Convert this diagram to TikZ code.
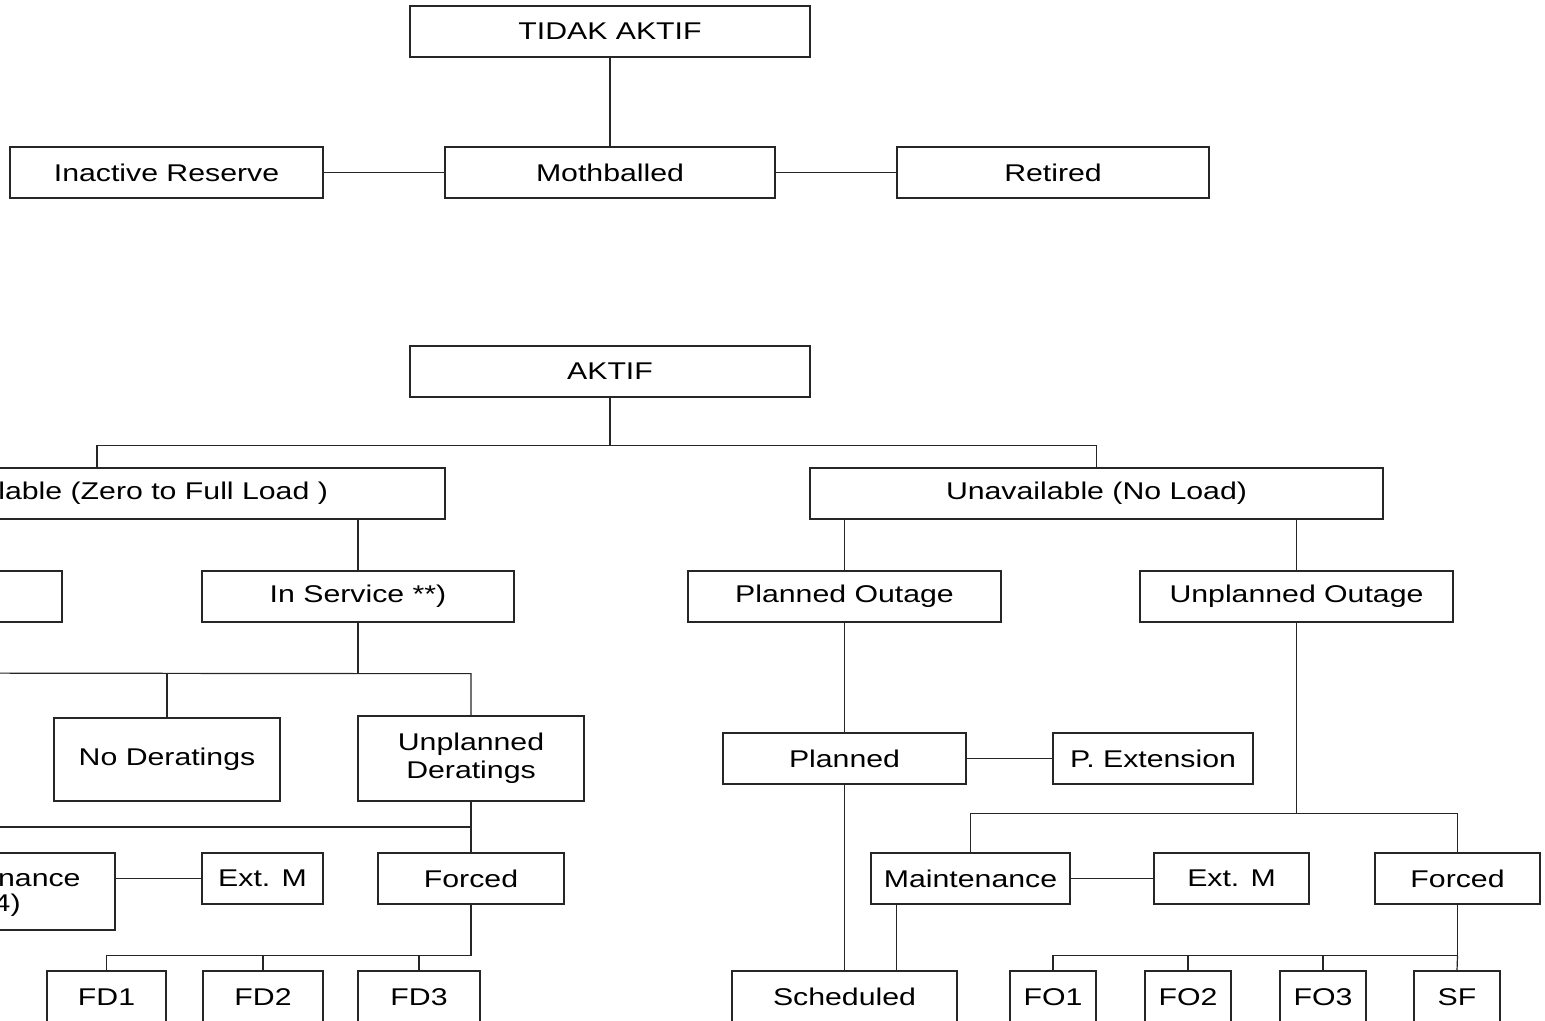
\documentclass[tikz,border=0pt]{standalone}
\usepackage{fontspec}
\setmainfont{Liberation Sans}[FakeStretch=1.25]
\usetikzlibrary{calc}

\tikzset{
  box/.style={draw=black!85, line width=0.6pt, inner sep=0pt, align=center,
              font=\fontsize{12.1}{14}\selectfont},
  txt/.style={inner sep=0pt, font=\fontsize{12.1}{14}\selectfont},
  wire/.style={draw=black!85, line width=0.6pt},
}

% \boxnode{name}{left}{top}{right}{bottom}{text}, positions in pixel units
\newcommand{\boxnode}[6]{%
  \node[box, minimum width={((#4)-(#2))*0.5pt}, minimum height={((#5)-(#3))*0.5pt}]
    (#1) at ({((#2)+(#4))/2},{((#3)+(#5))/2}) {#6};}

\begin{document}
\begin{tikzpicture}[x=0.5pt,y=-0.5pt]
\useasboundingbox (0,0) rectangle (1545,1021);
\clip (0,0) rectangle (1545,1021);

% ---------- inactive states ----------
\boxnode{tidak}{410}{6}{810}{57}{TIDAK AKTIF}
\boxnode{inres}{10}{147}{323}{198}{Inactive Reserve}
\boxnode{moth}{445}{147}{775}{198}{Mothballed}
\boxnode{ret}{897}{147}{1209}{198}{Retired}
\draw[wire] (tidak) -- (moth);
\draw[wire] (inres) -- (moth);
\draw[wire] (moth) -- (ret);

% ---------- active states ----------
\boxnode{aktif}{410}{346}{810}{397}{AKTIF}
\boxnode{avail}{-177}{468}{445}{519}{Available (Zero to Full Load )}
\boxnode{unavail}{810}{468}{1383}{519}{Unavailable (No Load)}
\coordinate (availdrop) at (97,468);
\draw[wire] (aktif.south) -- ++(0,48) coordinate (bA);
\draw[wire] (availdrop) |- (bA) -| (unavail.north);

% available branch
\boxnode{rsd}{-250}{571}{62}{622}{}
\boxnode{inserv}{202}{571}{514}{622}{In Service **)}
\draw[wire] (rsd.north) -- (rsd.north |- avail.south);
\draw[wire] (inserv.north) -- (inserv.north |- avail.south);

\boxnode{noder}{54}{718}{280}{801}{No Deratings}
\boxnode{unpder}{358}{716}{584}{801}{Unplanned\\Deratings}
\draw[wire] (inserv.south) -- ++(0,51) coordinate (bS);
\coordinate (bSleft) at (-100,673);
\draw[wire] (bSleft) -- (bS) -| (unpder.north);
\draw[wire] (noder.north) -- (noder.north |- bS);

\boxnode{mntL}{-135}{853}{115}{930}{}
\node[txt, anchor=east] (mntLa) at (81,878) {Maintenance};
\node[txt, anchor=east] (mntLb) at (21,905) {(D4)};
\boxnode{extL}{202}{853}{323}{904}{Ext. M}
\boxnode{forcedL}{378}{853}{564}{904}{Forced}
\coordinate (bUleft) at (-100,827);
\draw[wire] (unpder) -- (forcedL);
\draw[wire] (bUleft) -- (bUleft -| unpder.south);
\draw[wire] (extL.west -| mntL.east) -- (extL.west);

\boxnode{fd1}{47}{971}{166}{1023}{FD1}
\boxnode{fd2}{203}{971}{323}{1023}{FD2}
\boxnode{fd3}{358}{971}{480}{1023}{FD3}
\draw[wire] (forcedL.south) -- ++(0,51) coordinate (bF);
\draw[wire] (bF) -| (fd1.north);
\draw[wire] (fd2.north) -- (fd2.north |- bF);
\draw[wire] (fd3.north) -- (fd3.north |- bF);

% unavailable branch
\boxnode{plo}{688}{571}{1001}{622}{Planned Outage}
\boxnode{uplo}{1140}{571}{1453}{622}{Unplanned Outage}
\draw[wire] (plo.north |- unavail.south) -- (plo.north);
\draw[wire] (uplo.north |- unavail.south) -- (uplo.north);

\boxnode{planned}{723}{733}{966}{784}{Planned}
\boxnode{pext}{1053}{733}{1253}{784}{P. Extension}
\boxnode{sched}{732}{971}{957}{1023}{Scheduled}
\draw[wire] (plo) -- (planned);
\draw[wire] (planned) -- (pext);
\draw[wire] (planned) -- (sched);

\boxnode{mntR}{871}{853}{1070}{904}{Maintenance}
\boxnode{extR}{1154}{853}{1309}{904}{Ext. M}
\boxnode{forcedR}{1375}{853}{1540}{904}{Forced}
\draw[wire] (uplo.south) -- ++(0,191) coordinate (bO);
\draw[wire] (mntR.north) |- (bO) -| (forcedR.north);
\draw[wire] (mntR) -- (extR);
\draw[wire] (mntR.south west) ++(26,0) coordinate (mS) -- (mS |- sched.north);

\boxnode{fo1}{1010}{971}{1096}{1023}{FO1}
\boxnode{fo2}{1145}{971}{1231}{1023}{FO2}
\boxnode{fo3}{1280}{971}{1366}{1023}{FO3}
\boxnode{sf}{1414}{971}{1500}{1023}{SF}
\draw[wire] (forcedR.south) -- ++(0,51) coordinate (bG);
\draw[wire] (bG) -| (fo1.north);
\draw[wire] (fo2.north) -- (fo2.north |- bG);
\draw[wire] (fo3.north) -- (fo3.north |- bG);
\draw[wire] (bG) -- (sf.north);
\end{tikzpicture}
\end{document}
